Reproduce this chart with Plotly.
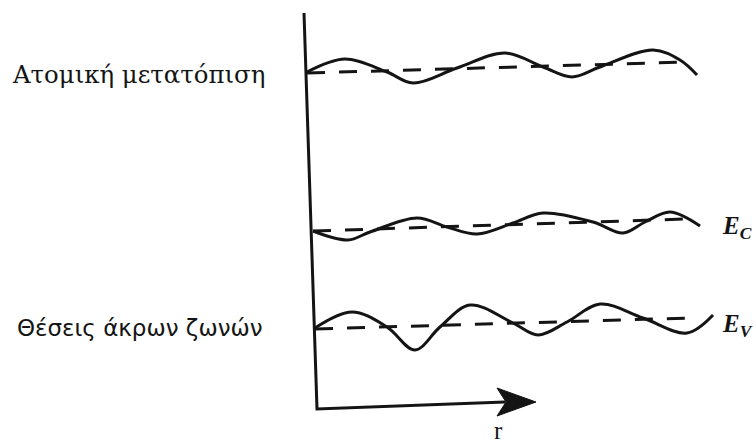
import plotly.graph_objects as go

# ---- data (picture units: x = r position, y = vertical level, downwards) ----
# Atomic displacement curve
disp_r = [307, 345, 387, 413, 457, 505, 543, 572, 600, 653, 680, 697]
disp_y = [72, 59, 72, 83, 68, 53, 67, 77, 67, 50, 60, 75]
disp_base_r = [307, 688]
disp_base_y = [73, 62]

# Conduction band edge E_C
ec_r = [313, 348, 370, 417, 447, 477, 513, 543, 593, 623, 645, 670, 700]
ec_y = [231, 240, 232, 218, 227, 234, 223, 213, 222, 233, 222, 212, 226]
ec_base_r = [313, 685]
ec_base_y = [231, 219]

# Valence band edge E_V
ev_r = [315, 352, 387, 415, 440, 470, 513, 538, 567, 600, 643, 687, 713]
ev_y = [328, 312, 327, 350, 327, 305, 323, 335, 322, 304, 318, 333, 315]
ev_base_r = [315, 690]
ev_base_y = [329, 318]

# axes (vertical axis + r axis shaft)
axis_r = [304, 317, 505]
axis_y = [13, 409, 402]
arrow_head_r = [536, 497, 506, 497, 536]
arrow_head_y = [402, 388, 402, 416, 402]

labels = ["Ατομική μετατόπιση", "Θέσεις άκρων ζωνών"]

INK = "#141414"

fig = go.Figure()

def solid(x, y):
    fig.add_trace(go.Scatter(x=x, y=y, mode="lines",
                             line=dict(color=INK, width=3, shape="spline", smoothing=1.0),
                             hoverinfo="skip", showlegend=False))

def dashed(x, y):
    fig.add_trace(go.Scatter(x=x, y=y, mode="lines",
                             line=dict(color=INK, width=3, dash="18px,14px"),
                             hoverinfo="skip", showlegend=False))

dashed(disp_base_r, disp_base_y)
dashed(ec_base_r, ec_base_y)
dashed(ev_base_r, ev_base_y)
solid(disp_r, disp_y)
solid(ec_r, ec_y)
solid(ev_r, ev_y)

fig.add_trace(go.Scatter(x=axis_r, y=axis_y, mode="lines",
                         line=dict(color=INK, width=3),
                         hoverinfo="skip", showlegend=False))
fig.add_trace(go.Scatter(x=arrow_head_r, y=arrow_head_y, mode="lines",
                         fill="toself", fillcolor=INK,
                         line=dict(color=INK, width=1),
                         hoverinfo="skip", showlegend=False))

fig.add_annotation(x=10, y=74, xref="x", yref="y", text=labels[0],
                   showarrow=False, xanchor="left", yanchor="middle",
                   font=dict(family="DejaVu Serif", size=24.4, color=INK))
fig.add_annotation(x=15, y=328, xref="x", yref="y", text=labels[1],
                   showarrow=False, xanchor="left", yanchor="middle",
                   font=dict(family="DejaVu Sans", size=23, color=INK))
fig.add_annotation(x=720, y=227, xref="x", yref="y",
                   text="<b><i>E</i></b><sub><b><i>C</i></b></sub>",
                   showarrow=False, xanchor="left", yanchor="middle",
                   font=dict(family="Liberation Serif", size=25, color=INK))
fig.add_annotation(x=720, y=325, xref="x", yref="y",
                   text="<b><i>E</i></b><sub><b><i>V</i></b></sub>",
                   showarrow=False, xanchor="left", yanchor="middle",
                   font=dict(family="Liberation Serif", size=25, color=INK))
fig.add_annotation(x=498, y=430, xref="x", yref="y", text="r",
                   showarrow=False, xanchor="center", yanchor="middle",
                   font=dict(family="Liberation Serif", size=25, color=INK))

fig.update_layout(
    width=756, height=444,
    margin=dict(l=0, r=0, t=0, b=0),
    paper_bgcolor="white", plot_bgcolor="white",
    xaxis=dict(range=[0, 756], visible=False, fixedrange=True),
    yaxis=dict(range=[444, 0], visible=False, fixedrange=True),
)

fig.write_html("out.html")
